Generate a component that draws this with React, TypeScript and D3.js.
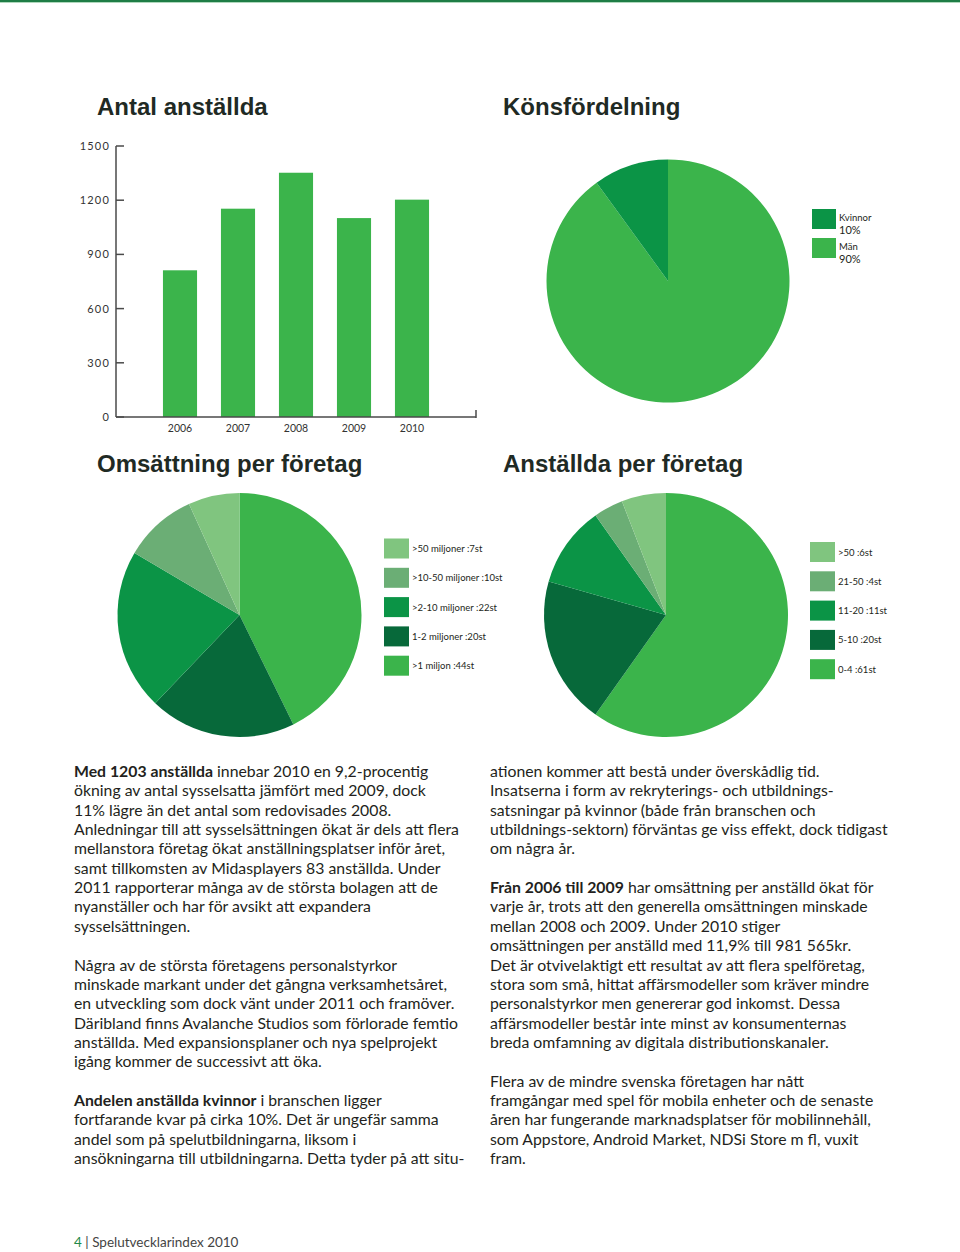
import React from 'react';
import * as d3 from 'd3';

const years = ['2006', '2007', '2008', '2009', '2010'];
const employees = [812, 1153, 1352, 1101, 1203];
const yTicks = [0, 300, 600, 900, 1200, 1500];

const genderLabels = ['Män', 'Kvinnor'];
const genderPct = ['90%', '10%'];
const genderValues = [90, 10];

const turnoverLabels = ['>1 miljon :44st', '1-2 miljoner :20st', '>2-10 miljoner :22st', '>10-50 miljoner :10st', '>50 miljoner :7st'];
const turnoverValues = [44, 20, 22, 10, 7];

const staffLabels = ['0-4 :61st', '5-10 :20st', '11-20 :11st', '21-50 :4st', '>50 :6st'];
const staffValues = [61, 20, 11, 4, 6];

const sliceColors = ['#3bb44b', '#07693a', '#0b9446', '#6bae75', '#80c57f'];
const genderColors = ['#3bb44b', '#0b9446'];

const leftLines: [string, string][] = [
  ['Med 1203 anställda', ' innebar 2010 en 9,2-procentig'],
  ['', 'ökning av antal sysselsatta jämfört med 2009, dock'],
  ['', '11% lägre än det antal som redovisades 2008.'],
  ['', 'Anledningar till att sysselsättningen ökat är dels att flera'],
  ['', 'mellanstora företag ökat anställningsplatser inför året,'],
  ['', 'samt tillkomsten av Midasplayers 83 anställda. Under'],
  ['', '2011 rapporterar många av de största bolagen att de'],
  ['', 'nyanställer och har för avsikt att expandera'],
  ['', 'sysselsättningen.'],
  ['', ''],
  ['', 'Några av de största företagens personalstyrkor'],
  ['', 'minskade markant under det gångna verksamhetsåret,'],
  ['', 'en utveckling som dock vänt under 2011 och framöver.'],
  ['', 'Däribland finns Avalanche Studios som förlorade femtio'],
  ['', 'anställda. Med expansionsplaner och nya spelprojekt'],
  ['', 'igång kommer de successivt att öka.'],
  ['', ''],
  ['Andelen anställda kvinnor', ' i branschen ligger'],
  ['', 'fortfarande kvar på cirka 10%. Det är ungefär samma'],
  ['', 'andel som på spelutbildningarna, liksom i'],
  ['', 'ansökningarna till utbildningarna. Detta tyder på att situ-'],
];

const rightLines: [string, string][] = [
  ['', 'ationen kommer att bestå under överskådlig tid.'],
  ['', 'Insatserna i form av rekryterings- och utbildnings-'],
  ['', 'satsningar på kvinnor (både från branschen och'],
  ['', 'utbildnings-sektorn) förväntas ge viss effekt, dock tidigast'],
  ['', 'om några år.'],
  ['', ''],
  ['Från 2006 till 2009', ' har omsättning per anställd ökat för'],
  ['', 'varje år, trots att den generella omsättningen minskade'],
  ['', 'mellan 2008 och 2009. Under 2010 stiger'],
  ['', 'omsättningen per anställd med 11,9% till 981 565kr.'],
  ['', 'Det är otvivelaktigt ett resultat av att flera spelföretag,'],
  ['', 'stora som små, hittat affärsmodeller som kräver mindre'],
  ['', 'personalstyrkor men genererar god inkomst. Dessa'],
  ['', 'affärsmodeller består inte minst av konsumenternas'],
  ['', 'breda omfamning av digitala distributionskanaler.'],
  ['', ''],
  ['', 'Flera av de mindre svenska företagen har nått'],
  ['', 'framgångar med spel för mobila enheter och de senaste'],
  ['', 'åren har fungerande marknadsplatser för mobilinnehåll,'],
  ['', 'som Appstore, Android Market, NDSi Store m fl, vuxit'],
  ['', 'fram.'],
];

const titleColor = '#1f2a24';
const textColor = '#231f20';
const bodyFont = 'Lato, sans-serif';
const titleFont = '"Liberation Sans", Arial, sans-serif';

function Pie({ cx, cy, r, values, colors }: { cx: number; cy: number; r: number; values: number[]; colors: string[] }) {
  const arcs = d3.pie<number>().sort(null).value((d) => d)(values);
  const arc = d3.arc<d3.PieArcDatum<number>>().innerRadius(0).outerRadius(r);
  return (
    <g transform={`translate(${cx},${cy})`}>
      {arcs.map((a, i) => (
        <path key={i} d={arc(a) || ''} fill={colors[i]} />
      ))}
    </g>
  );
}

function Legend({ x, y, labels, colors, step }: { x: number; y: number; labels: string[]; colors: string[]; step: number }) {
  const idx = labels.map((_, i) => i).reverse();
  return (
    <g>
      {idx.map((i, k) => (
        <g key={i} transform={`translate(${x},${y + k * step})`}>
          <rect width={25} height={20} fill={colors[i]} />
          <text x={28} y={13.5} fontFamily={bodyFont} fontSize={9.5} fill={textColor}>{labels[i]}</text>
        </g>
      ))}
    </g>
  );
}

function TextColumn({ x, y, lines }: { x: number; y: number; lines: [string, string][] }) {
  const step = 19.35;
  return (
    <g>
      {lines.map((l, i) => (
        <text key={i} x={x} y={y + i * step} fontFamily={bodyFont} fontSize={15.8} fill={textColor}>
          {l[0] ? <tspan fontWeight={700}>{l[0]}</tspan> : null}
          {l[1]}
        </text>
      ))}
    </g>
  );
}

export default function App() {
  const y = d3.scaleLinear().domain([0, 1500]).range([417, 146]);
  const x = d3.scaleBand<string>().domain(years).range([151, 441]).paddingInner(0.412).paddingOuter(0.206);
  const axisX0 = 116;

  return (
    <svg width={960} height={1252} style={{ position: 'absolute', left: 0, top: 0, background: '#fff' }}>
      <rect width={960} height={1252} fill="#fff" />
      <rect x={0} y={0} width={960} height={2} fill="#1e7d46" />
      <rect x={0} y={2} width={960} height={1} fill="#5fb27a" opacity={0.5} />

      {/* Titles */}
      <text x={97} y={115} fontFamily={titleFont} fontWeight={700} fontSize={24} fill={titleColor}>Antal anställda</text>
      <text x={503} y={115} fontFamily={titleFont} fontWeight={700} fontSize={24} fill={titleColor}>Könsfördelning</text>
      <text x={97} y={472} fontFamily={titleFont} fontWeight={700} fontSize={24} fill={titleColor}>Omsättning per företag</text>
      <text x={503} y={472} fontFamily={titleFont} fontWeight={700} fontSize={24} fill={titleColor}>Anställda per företag</text>

      {/* Bar chart */}
      <g>
        {years.map((yr, i) => (
          <rect key={yr} x={x(yr)} y={y(employees[i])} width={x.bandwidth()} height={y(0) - y(employees[i])} fill="#3bb44b" />
        ))}
        <line x1={axisX0} x2={axisX0} y1={y(1500)} y2={y(0)} stroke="#4a4a4a" strokeWidth={1.5} />
        <line x1={axisX0} x2={476} y1={y(0)} y2={y(0)} stroke="#4a4a4a" strokeWidth={1.5} />
        <line x1={476} x2={476} y1={y(0) - 7} y2={y(0) + 1} stroke="#4a4a4a" strokeWidth={1.5} />
        {yTicks.map((t) => (
          <g key={t}>
            <line x1={axisX0} x2={axisX0 + 8} y1={y(t)} y2={y(t)} stroke="#4a4a4a" strokeWidth={1.5} />
            <text x={110} y={y(t) + 4} textAnchor="end" fontFamily={bodyFont} fontSize={11} letterSpacing={1.2} fill="#333">{t}</text>
          </g>
        ))}
        {years.map((yr) => (
          <text key={yr} x={(x(yr) || 0) + x.bandwidth() / 2} y={432} textAnchor="middle" fontFamily={bodyFont} fontSize={10.5} fill="#333">{yr}</text>
        ))}
      </g>

      {/* Gender pie */}
      <Pie cx={668} cy={281} r={121.5} values={genderValues} colors={genderColors} />
      <g>
        {[1, 0].map((i, k) => (
          <g key={i} transform={`translate(812,${209 + k * 29})`}>
            <rect width={24} height={20} fill={genderColors[i]} />
            <text x={27} y={12} fontFamily={bodyFont} fontSize={9.5} fill={textColor}>{genderLabels[i]}</text>
            <text x={27} y={24.5} fontFamily={bodyFont} fontSize={11} fill={textColor}>{genderPct[i]}</text>
          </g>
        ))}
      </g>

      {/* Turnover pie */}
      <Pie cx={239.5} cy={615} r={122} values={turnoverValues} colors={sliceColors} />
      <Legend x={384} y={538.5} labels={turnoverLabels} colors={sliceColors} step={29.3} />

      {/* Staff pie */}
      <Pie cx={666} cy={615} r={122} values={staffValues} colors={sliceColors} />
      <Legend x={810} y={542} labels={staffLabels} colors={sliceColors} step={29.3} />

      {/* Body text */}
      <TextColumn x={74} y={777} lines={leftLines} />
      <TextColumn x={490} y={777} lines={rightLines} />

      {/* Footer */}
      <text x={74} y={1247} fontFamily={bodyFont} fontSize={13.5} fill="#444">
        <tspan fill="#1f8a4a">4</tspan>
        <tspan> | Spelutvecklarindex 2010</tspan>
      </text>
    </svg>
  );
}
